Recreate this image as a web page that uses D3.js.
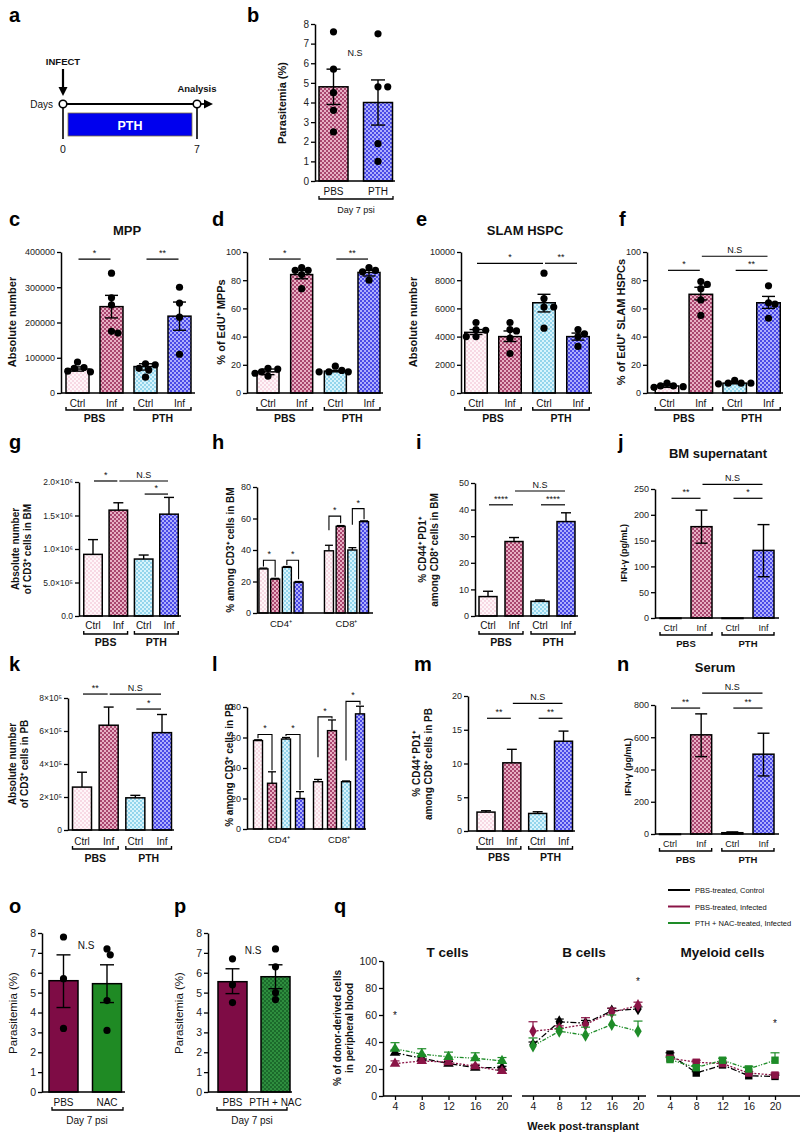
<!DOCTYPE html>
<html><head><meta charset="utf-8">
<script src="https://cdn.jsdelivr.net/npm/d3@7"></script>
<style>body{margin:0;background:#fff}svg{display:block}</style>
</head><body><svg id="fig" width="800" height="1139"></svg>
<script>
// ---------------- DATA ----------------
const timelineDays = [0, 7];
const grpCats = ["Ctrl", "Inf", "Ctrl", "Inf"];
const treatLabels = ["PBS", "PTH"];
const subsetCats = ["CD4\u207A", "CD8\u207A"];

// b
const bCats = ["PBS", "PTH"];
const bMean = [4.8, 4.0];
const bErr = [[3.9, 5.7], [2.85, 5.15]];
const bPts = [[7.6, 5.7, 4.5, 3.6, 2.5], [7.5, 4.8, 4.8, 1.9, 1.0]];
const bTicks = [0, 1, 2, 3, 4, 5, 6, 7, 8];
// c
const cMean = [68000, 245000, 75000, 218000];
const cErr = [[62000, 74000], [213000, 277000], [65000, 83000], [178000, 258000]];
const cPts = [[88000, 72000, 70000, 62000, 60000], [340000, 270000, 250000, 170000, 175000], [83000, 80000, 70000, 65000, 45000], [300000, 255000, 215000, 110000]];
const cSig = [[0, 1, 380000, "*"], [2, 3, 380000, "**"]];
const cTicks = [0, 100000, 200000, 300000, 400000];
// d
const dMean = [15, 84, 15.5, 85.5];
const dErr = [[13, 17], [81, 87], [15, 16], [83, 87]];
const dPts = [[17.5, 17, 14, 12, 15], [89, 87, 87, 84, 74], [19, 16, 15, 15, 15], [89, 87, 86, 80]];
const dSig = [[0, 1, 95, "*"], [2, 3, 95, "**"]];
const pctTicks = [0, 20, 40, 60, 80, 100];
// e
const eMean = [4300, 4000, 6400, 4000];
const eErr = [[4150, 4500], [3650, 4400], [5750, 7000], [3750, 4250]];
const ePts = [[5000, 4500, 4450, 4000, 4000], [5000, 4400, 4500, 3900, 2800], [8500, 6700, 6100, 6100, 4600], [4500, 4200, 4000, 3300]];
const eSig = [[0, 2, 9200, "*"], [2, 3, 9200, "**"]];
const eTicks = [0, 2000, 4000, 6000, 8000, 10000];
// f
const fMean = [5, 70, 7, 64];
const fErr = [[4, 6.5], [66, 75], [6.5, 8], [60, 68.5]];
const fPts = [[7, 5, 4.5, 4, 5], [79, 77, 74, 66, 55], [9, 7, 7, 6.5, 7], [76, 64, 63, 53]];
const fSig = [[0, 1, 87, "*"], [2, 3, 87, "**"], [1, 3, 97, "N.S"]];
// g
const gMean = [920000, 1580000, 850000, 1520000];
const gErrHi = [1140000, 1690000, 910000, 1770000];
const gSig = [[0, 1, 2015000, "*"], [1, 3, 2015000, "N.S"], [2, 3, 1820000, "*"]];
const gTicks = [0, 500000, 1000000, 1500000, 2000000];
const gTickLabels = ["0.0", "5.0\u00D710\u2075", "1.0\u00D710\u2076", "1.5\u00D710\u2076", "2.0\u00D710\u2076"];
// h
const hMean = [[28, 21.5, 29, 19.5], [39.5, 55, 40, 58]];
const hErrHi = [[28.5, 22, 29.5, 20], [43, 55.5, 41.5, 58.5]];
const hBrackets = [[0, 0, 1, 33.5, 29.5, 23], [0, 2, 3, 33.5, 30.5, 21.5], [1, 0, 1, 61.5, 52.5, 57], [1, 2, 3, 66.3, 56, 59.5]];
const hTicks = [0, 20, 40, 60, 80];
// i
const iMean = [7.3, 28, 5.5, 35.5];
const iErrHi = [9.3, 29.5, 6, 38.8];
const iSig = [[0, 1, 41.8, "****"], [2, 3, 41.8, "****"], [1, 3, 47, "N.S"]];
const iTicks = [0, 10, 20, 30, 40, 50];
// j
const jMean = [0, 177, 0, 131];
const jErr = [[0, 0], [145, 209], [0, 0], [80, 181]];
const jSig = [[0, 1, 232, "**"], [2, 3, 232, "*"], [1, 3, 259, "N.S"]];
const jTicks = [0, 50, 100, 150, 200, 250];
// k
const kMean = [260000, 635000, 195000, 590000];
const kErrHi = [350000, 745000, 210000, 700000];
const kSig = [[0, 1, 824000, "**"], [1, 3, 824000, "N.S"], [2, 3, 733000, "*"]];
const kTicks = [0, 200000, 400000, 600000, 800000];
const kTickLabels = ["0", "2\u00D710\u2075", "4\u00D710\u2075", "6\u00D710\u2075", "8\u00D710\u2075"];
// l
const lMean = [[58, 30, 59, 20], [31, 64.5, 31, 75.5]];
const lErrHi = [[58.5, 37.5, 60, 24.5], [32.5, 71.5, 31.5, 80.5]];
const lBrackets = [[0, 0, 1, 62, 59.5, 38.5], [0, 2, 3, 62, 61, 25.5], [1, 0, 1, 73.5, 47, 72.5], [1, 2, 3, 83.7, 45, 81.5]];
// m
const mMean = [2.8, 10.1, 2.6, 13.3];
const mErrHi = [3.0, 12.1, 2.85, 14.8];
const mSig = [[0, 1, 16.7, "**"], [2, 3, 16.7, "**"], [1, 3, 18.9, "N.S"]];
const mTicks = [0, 5, 10, 15, 20];
// n
const nMean = [0, 615, 8, 495];
const nErr = [[0, 0], [480, 745], [3, 13], [360, 625]];
const nSig = [[0, 1, 781, "**"], [2, 3, 781, "**"], [1, 3, 874, "N.S"]];
const nTicks = [0, 200, 400, 600, 800];
// o
const oCats = ["PBS", "NAC"];
const oMean = [5.6, 5.45];
const oErr = [[4.25, 6.9], [4.5, 6.4]];
const oPts = [[7.8, 5.7, 3.2], [7.2, 6.9, 4.6, 3.1]];
// p
const pCats = ["PBS", "PTH + NAC"];
const pMean = [5.55, 5.8];
const pErr = [[4.95, 6.2], [5.2, 6.4]];
const pPts = [[6.7, 5.4, 4.5], [7.2, 6.3, 5.0, 4.65]];
// q
const weeks = [4, 8, 12, 16, 20];
const qSeries = ["PBS-treated, Control", "PBS-treated, Infected", "PTH + NAC-treated, Infected"];
const qTicks = [0, 20, 40, 60, 80, 100];
const tMean = [[32, 28, 24, 21, 21], [24, 26, 25, 22, 18.5], [35, 31, 29, 28, 26]];
const tErrHi = [[34, 29.5, 25.5, 22.5, 22], [26, 27.5, 26.5, 23.5, 20], [39.5, 35, 32.5, 32, 28.5]];
const bcMean = [[38, 55, 54, 63, 64.5], [48, 50, 53, 62, 67], [37, 48, 45, 53, 48]];
const bcErrHi = [[40, 57, 56, 65, 66], [55, 52, 58, 65, 69.5], [43, 50, 51, 60, 55.5]];
const myMean = [[31, 17, 23, 15, 14.5], [28, 25, 24, 17, 15.5], [27, 21, 26.5, 20, 26.5]];
const myErrHi = [[32, 18, 24.5, 16.5, 15.5], [29.5, 26.5, 25, 18, 17], [28.5, 22.5, 28, 22, 32]];
const qStars = [[4, 60], [20, 85], [20, 54]];

// ---------------- SETUP ----------------
const FONT = "'Liberation Sans', Arial, Helvetica, sans-serif";
const svg = d3.select("#fig");
svg.append("rect").attr("width", 800).attr("height", 1139).attr("fill", "#fff");
const defs = svg.append("defs");
function pat(id, base, dot) {
  const p = defs.append("pattern").attr("id", id).attr("width", 4).attr("height", 4).attr("patternUnits", "userSpaceOnUse");
  p.append("rect").attr("width", 4).attr("height", 4).attr("fill", base);
  p.append("rect").attr("width", 2).attr("height", 2).attr("fill", dot);
  p.append("rect").attr("x", 2).attr("y", 2).attr("width", 2).attr("height", 2).attr("fill", dot);
}
pat("pCtrlPBS", "#fff6f9", "#f7d9e4");
pat("pInfPBS", "#e8b0c4", "#a9466f");
pat("pCtrlPTH", "#d8f4fc", "#94d5ec");
pat("pInfPTH", "#aeaefc", "#4a4ae6");
pat("pNAC", "#2e8e3e", "#1b6a2b");
const fills4 = ["url(#pCtrlPBS)", "url(#pInfPBS)", "url(#pCtrlPTH)", "url(#pInfPTH)"];

function txt(x, y, s, o = {}) {
  const t = svg.append("text").attr("x", x).attr("y", y).text(s)
    .attr("font-family", FONT).attr("font-size", o.fs || 10)
    .attr("font-weight", o.bold ? "bold" : "normal")
    .attr("text-anchor", o.anchor || "middle").attr("fill", o.fill || "#111");
  if (o.rot) t.attr("transform", `rotate(-90,${x},${y})`);
  if (o.base) t.attr("dominant-baseline", o.base);
  return t;
}
function line(x1, y1, x2, y2, w = 1.3, c = "#000") {
  return svg.append("line").attr("x1", x1).attr("y1", y1).attr("x2", x2).attr("y2", y2).attr("stroke", c).attr("stroke-width", w);
}

function swarm(vals, yS, r, cx) {
  const items = vals.map(v => ({ v, py: yS(v) })).sort((a, b) => a.py - b.py);
  const placed = [];
  const offs = [0];
  for (let k = 1; k < 8; k++) offs.push(k * r * 0.9, -k * r * 0.9);
  for (const p of items) {
    for (const o of offs) {
      if (placed.every(q => Math.hypot(q.px - (cx + o), q.py - p.py) >= 2 * r - 0.6)) { p.px = cx + o; break; }
    }
    if (p.px === undefined) p.px = cx;
    placed.push(p);
  }
  return placed;
}

function yAxis(yS, ax, ticks, labels, fs) {
  const a = d3.axisLeft(yS).tickValues(ticks).tickSize(4).tickSizeOuter(0).tickPadding(2)
    .tickFormat((d, i) => labels ? labels[i] : d3.format("d")(d));
  const g = svg.append("g").attr("transform", `translate(${ax},0)`).call(a);
  g.select(".domain").attr("stroke", "#000").attr("stroke-width", 1.5);
  g.selectAll(".tick line").attr("stroke", "#000").attr("stroke-width", 1.3);
  g.selectAll(".tick text").attr("font-family", FONT).attr("font-size", fs || 9).attr("fill", "#222");
  return g;
}

function barPanel(o) {
  const n = o.means.length;
  const y = d3.scaleLinear().domain([0, o.max]).range([o.yBot, o.yTop]);
  const x = d3.scalePoint().domain(d3.range(n)).range([o.c0, o.c1]);
  const g = svg.append("g");
  g.selectAll("rect").data(o.means).join("rect")
    .attr("x", (d, i) => x(i) - o.bw / 2).attr("width", o.bw)
    .attr("y", d => y(d)).attr("height", d => Math.max(0.5, o.yBot - y(d)))
    .attr("fill", (d, i) => o.fills[i]).attr("stroke", "#000").attr("stroke-width", 1.5);
  // error bars
  const eg = svg.append("g").attr("stroke", "#000").attr("stroke-width", 1.4);
  o.means.forEach((m, i) => {
    let lo, hi;
    if (o.err) { lo = o.err[i][0]; hi = o.err[i][1]; } else { lo = m; hi = o.errHi[i]; }
    if (hi <= lo) return;
    const cw = o.capW || 12;
    eg.append("line").attr("x1", x(i)).attr("x2", x(i)).attr("y1", y(lo)).attr("y2", y(hi));
    eg.append("line").attr("x1", x(i) - cw / 2).attr("x2", x(i) + cw / 2).attr("y1", y(hi)).attr("y2", y(hi));
    if (o.err) eg.append("line").attr("x1", x(i) - cw / 2).attr("x2", x(i) + cw / 2).attr("y1", y(lo)).attr("y2", y(lo));
  });
  // points
  if (o.pts) {
    const r = o.r || 3.6;
    o.pts.forEach((arr, i) => {
      const sw = swarm(arr, y, r, x(i));
      svg.append("g").selectAll("circle").data(sw).join("circle")
        .attr("cx", d => d.px).attr("cy", d => d.py).attr("r", r).attr("fill", "#000");
    });
  }
  yAxis(y, o.ax, o.ticks, o.tickLabels, o.tickFs);
  line(o.ax, o.yBot, o.xEnd, o.yBot, 1.5);
  // significance
  (o.sig || []).forEach(s => {
    const yy = y(s[2]);
    line(x(s[0]) + 1, yy, x(s[1]) - 1, yy, 1.2);
    txt((x(s[0]) + x(s[1])) / 2, yy - 3, s[3], { fs: s[3] === "N.S" ? 9 : 9 });
  });
  // category labels
  if (o.cats) {
    o.cats.forEach((c, i) => txt(x(i), o.yBot + (o.labDy || 14), c, { fs: o.catFs || 10 }));
  }
  if (o.treat) {
    const by = o.yBot + (o.brDy || 17);
    [[0, 1], [2, 3]].forEach((pr, k) => {
      const xa = x(pr[0]) - o.bw / 2, xb = x(pr[1]) + o.bw / 2;
      svg.append("path").attr("d", `M${xa},${by - 3}V${by}H${xb}V${by - 3}`).attr("fill", "none").attr("stroke", "#000").attr("stroke-width", 1.4);
      txt((xa + xb) / 2, by + (o.grpDy || 12), o.treat[k], { fs: o.grpFs || 10.5, bold: true });
    });
  }
  return { x, y };
}

function groupedPanel(o) {
  const y = d3.scaleLinear().domain([0, o.max]).range([o.yBot, o.yTop]);
  const xo = d3.scalePoint().domain(d3.range(o.means.length)).range([o.g0, o.g1]);
  const xi = d3.scalePoint().domain(d3.range(4)).range([-1.5 * o.step, 1.5 * o.step]);
  o.means.forEach((grp, gi) => {
    svg.append("g").selectAll("rect").data(grp).join("rect")
      .attr("x", (d, i) => xo(gi) + xi(i) - o.bw / 2).attr("width", o.bw)
      .attr("y", d => y(d)).attr("height", d => o.yBot - y(d))
      .attr("fill", (d, i) => fills4[i]).attr("stroke", "#000").attr("stroke-width", 1.4);
    grp.forEach((m, i) => {
      const hi = o.errHi[gi][i];
      if (hi > m) {
        const cx = xo(gi) + xi(i);
        line(cx, y(m), cx, y(hi), 1.3);
        line(cx - 4, y(hi), cx + 4, y(hi), 1.3);
      }
    });
    txt(xo(gi), o.yBot + 14, o.cats[gi], { fs: 9.5 });
  });
  o.brackets.forEach(b => {
    const xa = xo(b[0]) + xi(b[1]), xb = xo(b[0]) + xi(b[2]);
    svg.append("path").attr("d", `M${xa},${y(b[4])}V${y(b[3])}H${xb}V${y(b[5])}`)
      .attr("fill", "none").attr("stroke", "#000").attr("stroke-width", 1.1);
    txt((xa + xb) / 2, y(b[3]) - 3, "*", { fs: 9 });
  });
  yAxis(y, o.ax, o.ticks, null, 9);
  line(o.ax, o.yBot, o.xEnd, o.yBot, 1.5);
}

function ylab(x, yc, lines, fs, bold = true) {
  lines.forEach((s, k) => txt(x + k * (fs + 2), yc, s, { fs, bold, rot: true }));
}

// ---------------- PANEL LETTERS ----------------
[["a", 9, 22], ["b", 247, 22], ["c", 9, 226], ["d", 212, 226], ["e", 416, 226], ["f", 619, 226],
 ["g", 9, 449], ["h", 212, 449], ["i", 416, 449], ["j", 618, 449],
 ["k", 9, 671], ["l", 212, 671], ["m", 414, 671], ["n", 617, 671],
 ["o", 9, 913], ["p", 174, 913], ["q", 334, 913]].forEach(d => txt(d[1], d[2], d[0], { fs: 20, bold: true, anchor: "start", fill: "#000" }));

// ---------------- PANEL a ----------------
{
  const t = d3.scaleLinear().domain(timelineDays).range([63, 197]);
  const yl = 104;
  line(t(0) + 3.5, yl, t(7) - 3.5, yl, 1.8);
  line(t(7) + 3.5, yl, 206, yl, 1.8);
  svg.append("path").attr("d", "M204,99.5L213,104L204,108.5Z").attr("fill", "#000");
  svg.append("rect").attr("x", t(0) + 5).attr("y", 113).attr("width", t(7) - t(0) - 10).attr("height", 23)
    .attr("fill", "#0000ee").attr("stroke", "#807040").attr("stroke-width", 0.8);
  txt((t(0) + t(7)) / 2, 129.5, "PTH", { fs: 12.5, bold: true, fill: "#fff" });
  timelineDays.forEach(d => {
    line(t(d), yl + 3.5, t(d), 139, 1.6);
    svg.append("circle").attr("cx", t(d)).attr("cy", yl).attr("r", 3.8).attr("fill", "#fff").attr("stroke", "#000").attr("stroke-width", 1.6);
    txt(t(d), 153, String(d), { fs: 10.5 });
  });
  txt(53, 108, "Days", { fs: 10, anchor: "end" });
  txt(t(0), 65, "INFECT", { fs: 9.5, bold: true });
  line(t(0), 69, t(0), 88, 2.2);
  svg.append("path").attr("d", `M${t(0) - 4.5},87L${t(0) + 4.5},87L${t(0)},96Z`).attr("fill", "#000");
  txt(t(7), 92, "Analysis", { fs: 9.5, bold: true });
}

// ---------------- PANEL b ----------------
barPanel({ ax: 315, xEnd: 395, yTop: 24, yBot: 181, max: 8, ticks: bTicks, c0: 333.5, c1: 378, bw: 29,
  means: bMean, err: bErr, pts: bPts, fills: ["url(#pInfPBS)", "url(#pInfPTH)"], cats: bCats, labDy: 14, capW: 14, tickFs: 10 });
txt(355, 56, "N.S", { fs: 9 });
svg.append("path").attr("d", "M319,196V199H393V196").attr("fill", "none").attr("stroke", "#000").attr("stroke-width", 1.3);
txt(356, 213, "Day 7 psi", { fs: 9 });
ylab(286, 103, ["Parasitemia (%)"], 11);

// ---------------- PANEL c ----------------
txt(127, 235, "MPP", { fs: 13, bold: true });
barPanel({ ax: 61, xEnd: 195, yTop: 252, yBot: 393, max: 400000, ticks: cTicks, c0: 77.5, c1: 179.5, bw: 23,
  means: cMean, err: cErr, pts: cPts, sig: cSig, fills: fills4, cats: grpCats, treat: treatLabels, capW: 13 });
ylab(16, 322, ["Absolute number"], 11);

// ---------------- PANEL d ----------------
barPanel({ ax: 247, xEnd: 383, yTop: 252, yBot: 393, max: 100, ticks: pctTicks, c0: 268, c1: 369, bw: 22,
  means: dMean, err: dErr, pts: dPts, sig: dSig, fills: fills4, cats: grpCats, treat: treatLabels, capW: 13 });
ylab(225, 322, ["% of EdU\u207A MPPs"], 11);

// ---------------- PANEL e ----------------
txt(525, 235, "SLAM HSPC", { fs: 13, bold: true });
barPanel({ ax: 461, xEnd: 592, yTop: 252, yBot: 393, max: 10000, ticks: eTicks, c0: 476, c1: 578, bw: 22.5,
  means: eMean, err: eErr, pts: ePts, sig: eSig, fills: fills4, cats: grpCats, treat: treatLabels, capW: 13 });
ylab(417, 322, ["Absolute number"], 11);

// ---------------- PANEL f ----------------
barPanel({ ax: 647, xEnd: 783, yTop: 252, yBot: 393, max: 100, ticks: pctTicks, c0: 667, c1: 768.5, bw: 23.5,
  means: fMean, err: fErr, pts: fPts, sig: fSig, fills: fills4, cats: grpCats, treat: treatLabels, capW: 13 });
ylab(625, 322, ["% of EdU\u207A SLAM HSPCs"], 11);

// ---------------- PANEL g ----------------
barPanel({ ax: 79, xEnd: 181, yTop: 482, yBot: 616, max: 2000000, ticks: gTicks, tickLabels: gTickLabels, c0: 93, c1: 169, bw: 18.5,
  means: gMean, errHi: gErrHi, sig: gSig, fills: fills4, cats: grpCats, treat: treatLabels, capW: 10, labDy: 13, brDy: 18, grpDy: 12, tickFs: 8.5 });
ylab(19, 549, ["Absolute number", "of CD3\u207A cells in BM"], 10);

// ---------------- PANEL h ----------------
groupedPanel({ ax: 257, xEnd: 373, yTop: 487, yBot: 613, max: 80, ticks: hTicks, g0: 281, g1: 346.5, step: 11.7, bw: 9,
  means: hMean, errHi: hErrHi, brackets: hBrackets, cats: subsetCats });
ylab(234, 550, ["% among CD3\u207A cells in BM"], 10);

// ---------------- PANEL i ----------------
barPanel({ ax: 475, xEnd: 578, yTop: 483, yBot: 616, max: 50, ticks: iTicks, c0: 488, c1: 566, bw: 18,
  means: iMean, errHi: iErrHi, sig: iSig, fills: fills4, cats: grpCats, treat: treatLabels, capW: 10, labDy: 13, brDy: 18, grpDy: 12 });
ylab(426, 550, ["% CD44\u207A PD1\u207A", "among CD8\u207A cells in BM"], 10);

// ---------------- PANEL j ----------------
txt(718, 458, "BM supernatant", { fs: 13, bold: true });
barPanel({ ax: 655, xEnd: 779, yTop: 489, yBot: 618, max: 250, ticks: jTicks, c0: 670.5, c1: 763.5, bw: 21,
  means: jMean, err: jErr, sig: jSig, fills: fills4, cats: grpCats, treat: treatLabels, capW: 12, labDy: 13, brDy: 17, grpDy: 12, catFs: 9, grpFs: 9.5 });
ylab(627, 553, ["IFN-\u03B3 (pg/mL)"], 9);

// ---------------- PANEL k ----------------
barPanel({ ax: 68, xEnd: 174, yTop: 698, yBot: 830, max: 800000, ticks: kTicks, tickLabels: kTickLabels, c0: 82, c1: 162, bw: 19,
  means: kMean, errHi: kErrHi, sig: kSig, fills: fills4, cats: grpCats, treat: treatLabels, capW: 10, labDy: 15, brDy: 19, grpDy: 13, tickFs: 8.5 });
ylab(16, 764, ["Absolute number", "of CD3\u207A cells in PB"], 10);

// ---------------- PANEL l ----------------
groupedPanel({ ax: 247, xEnd: 366, yTop: 707, yBot: 829, max: 80, ticks: hTicks, g0: 279, g1: 339, step: 14, bw: 9,
  means: lMean, errHi: lErrHi, brackets: lBrackets, cats: subsetCats });
ylab(233, 765, ["% among CD3\u207A cells in PB"], 10);

// ---------------- PANEL m ----------------
barPanel({ ax: 468, xEnd: 575, yTop: 696, yBot: 831, max: 20, ticks: mTicks, c0: 486, c1: 563.5, bw: 18,
  means: mMean, errHi: mErrHi, sig: mSig, fills: fills4, cats: grpCats, treat: treatLabels, capW: 10, labDy: 14, brDy: 18, grpDy: 12 });
ylab(420, 764, ["% CD44\u207A PD1\u207A", "among CD8\u207A cells in PB"], 10);

// ---------------- PANEL n ----------------
txt(715, 672, "Serum", { fs: 13, bold: true });
barPanel({ ax: 655, xEnd: 779, yTop: 705, yBot: 834, max: 800, ticks: nTicks, c0: 670, c1: 763.5, bw: 21,
  means: nMean, err: nErr, sig: nSig, fills: fills4, cats: grpCats, treat: treatLabels, capW: 12, labDy: 13, brDy: 17, grpDy: 12, catFs: 9, grpFs: 9.5 });
ylab(631, 767, ["IFN-\u03B3 (pg/mL)"], 9);

// ---------------- PANEL o ----------------
barPanel({ ax: 42, xEnd: 125, yTop: 933, yBot: 1092, max: 8, ticks: bTicks, c0: 63.5, c1: 107, bw: 29,
  means: oMean, err: oErr, pts: oPts, fills: ["#7e0c45", "#1f8a24"], cats: oCats, labDy: 14, capW: 14, tickFs: 10.5 });
txt(86, 949, "N.S", { fs: 10 });
svg.append("path").attr("d", "M52,1107V1110H123V1107").attr("fill", "none").attr("stroke", "#000").attr("stroke-width", 1.3);
txt(87, 1124, "Day 7 psi", { fs: 10 });
ylab(17, 1013, ["Parasitemia (%)"], 11.5, false);

// ---------------- PANEL p ----------------
barPanel({ ax: 208, xEnd: 292, yTop: 933, yBot: 1092, max: 8, ticks: bTicks, c0: 232.5, c1: 275.5, bw: 29,
  means: pMean, err: pErr, pts: pPts, fills: ["#7e0c45", "url(#pNAC)"], cats: pCats, labDy: 14, capW: 14, tickFs: 10.5 });
txt(253, 954, "N.S", { fs: 10 });
svg.append("path").attr("d", "M217,1107V1110H287V1107").attr("fill", "none").attr("stroke", "#000").attr("stroke-width", 1.3);
txt(252, 1124, "Day 7 psi", { fs: 10 });
ylab(183, 1013, ["Parasitemia (%)"], 11.5, false);

// ---------------- PANEL q ----------------
{
  const qY = d3.scaleLinear().domain([0, 100]).range([1096, 961]);
  const colors = ["#000000", "#8a1446", "#1e8c28"];
  const dashes = ["6,2,1.5,2", "2,1.6", "4,1.5,1.2,1.5,1.2,1.5"];
  const subs = [
    { title: "T cells", a0: 383, a1: 512, r0: 395, r1: 502, mean: tMean, hi: tErrHi, sym: d3.symbolTriangle, star: qStars[0] },
    { title: "B cells", a0: 522, a1: 646, r0: 533, r1: 638, mean: bcMean, hi: bcErrHi, sym: d3.symbolDiamond, star: qStars[1] },
    { title: "Myeloid cells", a0: 657, a1: 800, r0: 670, r1: 775, mean: myMean, hi: myErrHi, sym: d3.symbolSquare, star: qStars[2] }
  ];
  subs.forEach((s, si) => {
    const x = d3.scaleLinear().domain([4, 20]).range([s.r0, s.r1]);
    const xa = d3.axisBottom(x).tickValues(weeks).tickSize(4).tickSizeOuter(0).tickPadding(3);
    const g = svg.append("g").attr("transform", "translate(0,1096)").call(xa);
    g.select(".domain").remove();
    g.selectAll(".tick line").attr("stroke", "#000").attr("stroke-width", 1.3);
    g.selectAll(".tick text").attr("font-family", FONT).attr("font-size", 10.5).attr("fill", "#222");
    line(s.a0, 1096, s.a1, 1096, 1.6);
    s.mean.forEach((ser, k) => {
      const lg = d3.line().x((d, i) => x(weeks[i])).y(d => qY(d));
      svg.append("path").attr("d", lg(ser)).attr("fill", "none").attr("stroke", colors[k]).attr("stroke-width", 1.3).attr("stroke-dasharray", dashes[k]);
      ser.forEach((m, i) => {
        const hx = x(weeks[i]);
        line(hx, qY(m), hx, qY(s.hi[k][i]), 1.2, colors[k]);
        line(hx - 4.5, qY(s.hi[k][i]), hx + 4.5, qY(s.hi[k][i]), 1.2, colors[k]);
      });
      svg.append("g").selectAll("path").data(ser).join("path")
        .attr("d", d3.symbol().type(s.sym).size(s.sym === d3.symbolSquare ? 55 : 48))
        .attr("transform", (d, i) => `translate(${x(weeks[i])},${qY(d)})`)
        .attr("fill", colors[k]);
    });
    txt(x(s.star[0]), qY(s.star[1]) + 4, "*", { fs: 10 });
    txt((s.a0 + s.a1) / 2 + (si === 2 ? -6 : 0), 957, s.title, { fs: 13.5, bold: true });
  });
  yAxis(qY, 383, qTicks, null, 10.5);
  txt(583, 1130, "Week post-transplant", { fs: 11, bold: true });
  ylab(341, 1028, ["% of donor-derived cells", "in peripheral blood"], 10);
  // legend
  qSeries.forEach((s, k) => {
    const ly = 890 + k * 16.5;
    line(668, ly, 690, ly, 2, colors[k]);
    txt(695, ly + 3, s, { fs: 7.5, anchor: "start" });
  });
}
</script></body></html>
